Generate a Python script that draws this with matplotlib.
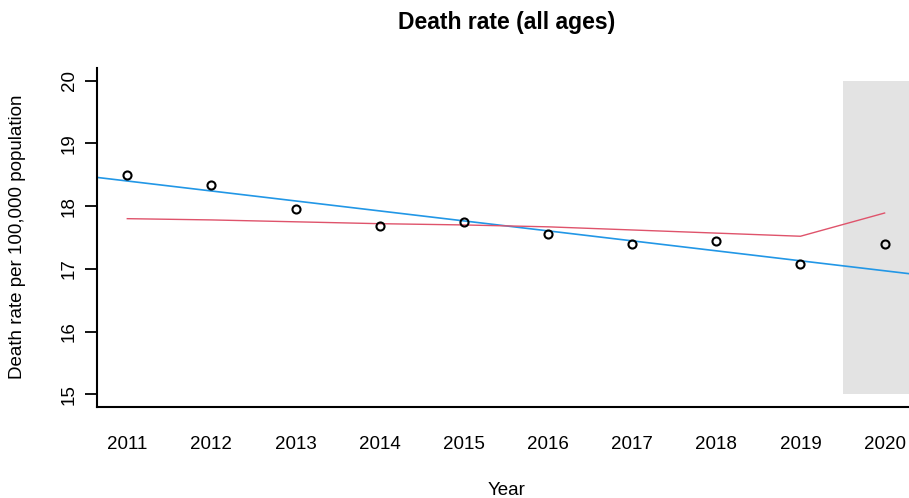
import matplotlib
matplotlib.use("Agg")
import matplotlib.pyplot as plt
from matplotlib.patches import Rectangle

plt.rcParams["font.family"] = ["Liberation Sans", "DejaVu Sans"]

# Observed death rates per 100,000 population
years = [2011, 2012, 2013, 2014, 2015, 2016, 2017, 2018, 2019, 2020]
death_rate = [18.50, 18.33, 17.96, 17.69, 17.74, 17.55, 17.39, 17.44, 17.07, 17.39]

# Model prediction (red curve)
model_pred = [17.80, 17.78, 17.75, 17.72, 17.70, 17.67, 17.62, 17.57, 17.52, 17.89]

# Linear trend (blue line), defined by its values at 2011 and 2020
trend_years = [2011, 2020]
trend_vals = [18.40, 16.97]

# Shaded pandemic year
shade_start = 2019.5
shade_ymin, shade_ymax = 15, 20

y_ticks = [15, 16, 17, 18, 19, 20]

fig = plt.figure(figsize=(9.09, 4.98), dpi=100)
ax = fig.add_axes([97 / 909, 1 - 407 / 498, 1 - 97 / 909, (407 - 68) / 498])

ax.set_xlim(2010.64, 2020.29)
ax.set_ylim(14.8, 20.2)

ax.add_patch(Rectangle((shade_start, shade_ymin), 5, shade_ymax - shade_ymin,
                       facecolor="#E3E3E3", edgecolor="none", zorder=0))

ax.axline((trend_years[0], trend_vals[0]), (trend_years[1], trend_vals[1]),
          color="#2297E6", lw=1.2, zorder=2)
ax.plot(years, model_pred, color="#DF536B", lw=1.0, zorder=2)
ax.plot(years, death_rate, linestyle="none", marker="o", markersize=5.8,
        markerfacecolor="none", markeredgecolor="black", markeredgewidth=1.5, zorder=3)

for side in ("top", "right"):
    ax.spines[side].set_visible(False)
for side in ("left", "bottom"):
    ax.spines[side].set_linewidth(1.5)
ax.spines["left"].set_bounds(14.8, 20.2)

ax.set_yticks(y_ticks)
ax.set_yticklabels([str(v) for v in y_ticks], rotation=90, va="center")
ax.tick_params(axis="y", length=8.6, width=1.3, pad=5, labelsize=13.5)
ax.set_xticks(years)
ax.set_xticklabels([str(y) for y in years])
ax.tick_params(axis="x", length=0, pad=21, labelsize=13.5)

fig.text(507 / 909, 1 - 22 / 498, "Death rate (all ages)", ha="center", va="center",
         fontsize=16.5, fontweight="bold")
fig.text(507 / 909, 1 - 490 / 498, "Year", ha="center", va="center", fontsize=13.5)
fig.text(18 / 909, 1 - 237 / 498, "Death rate per 100,000 population", ha="center",
         va="center", rotation=90, fontsize=13.5)

fig.savefig("out.png", dpi=100)
